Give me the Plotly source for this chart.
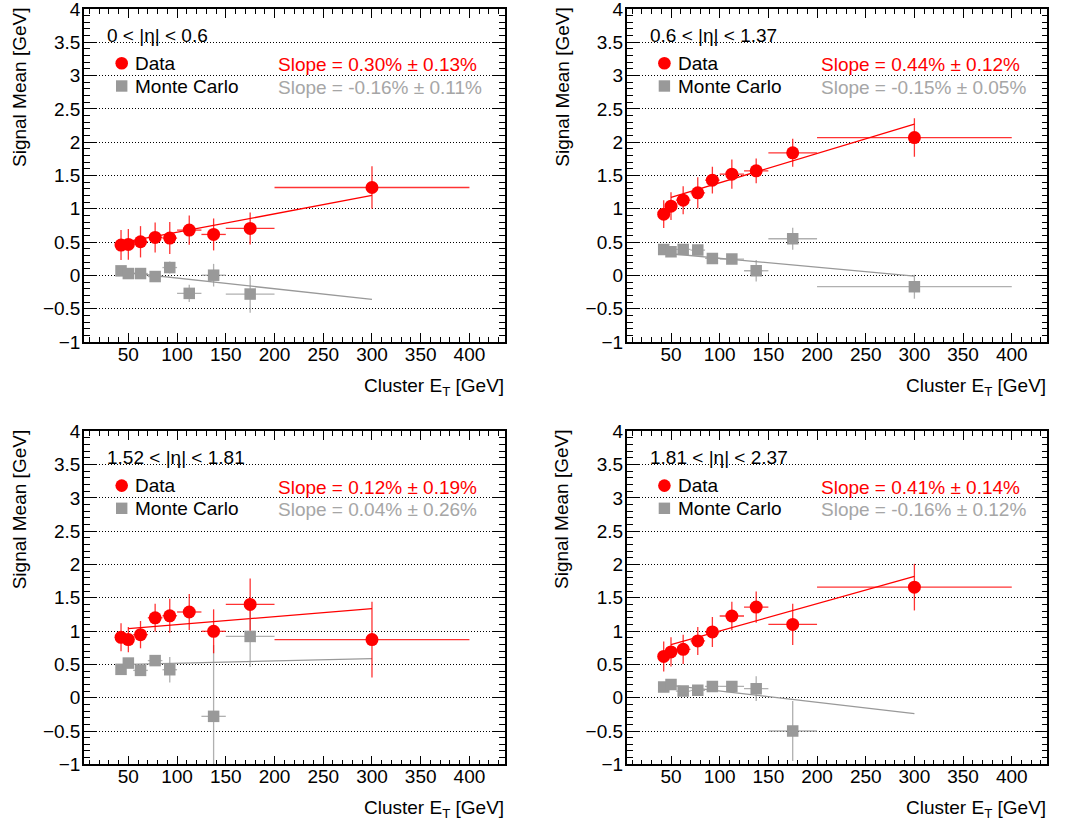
import plotly.graph_objects as go

# Bin centres and half-widths of the cluster E_T bins [GeV]
et_centres = [42.5, 50, 62.5, 77.5, 92.5, 112.5, 137.5, 175, 300]
et_halfwidths = [2.5, 5, 7.5, 7.5, 7.5, 12.5, 12.5, 25, 100]

eta_labels = ["0 < |η| < 0.6", "0.6 < |η| < 1.37", "1.52 < |η| < 1.81", "1.81 < |η| < 2.37"]

# Data: signal mean [GeV] and its uncertainty, one list per eta bin
data_mean = [
    [0.455, 0.465, 0.505, 0.57, 0.56, 0.68, 0.615, 0.705, 1.32],
    [0.92, 1.04, 1.13, 1.24, 1.43, 1.52, 1.57, 1.84, 2.07],
    [0.907, 0.872, 0.947, 1.20, 1.23, 1.287, 0.997, 1.40, 0.872],
    [0.62, 0.687, 0.727, 0.852, 0.987, 1.227, 1.36, 1.10, 1.66],
]
data_err = [
    [0.225, 0.23, 0.235, 0.225, 0.24, 0.22, 0.24, 0.24, 0.32],
    [0.21, 0.21, 0.21, 0.235, 0.20, 0.22, 0.185, 0.21, 0.29],
    [0.21, 0.19, 0.205, 0.21, 0.255, 0.27, 0.33, 0.39, 0.57],
    [0.225, 0.22, 0.22, 0.21, 0.225, 0.215, 0.235, 0.31, 0.35],
]

# Monte Carlo: signal mean [GeV] and its uncertainty (None = no entry)
mc_mean = [
    [0.068, 0.028, 0.028, -0.017, 0.118, -0.27, 0.003, -0.28, None],
    [0.39, 0.355, 0.39, 0.38, 0.255, 0.245, 0.07, 0.55, -0.17],
    [0.426, 0.52, 0.41, 0.557, 0.42, None, -0.28, 0.92, None],
    [0.161, 0.20, 0.10, 0.11, 0.17, 0.17, 0.136, -0.50, None],
]
mc_err = [
    [0.05, 0.05, 0.05, 0.05, 0.09, 0.13, 0.17, 0.28, None],
    [0.05, 0.05, 0.05, 0.05, 0.06, 0.06, 0.16, 0.165, 0.18],
    [0.05, 0.05, 0.05, 0.06, 0.19, None, 1.07, 0.46, None],
    [0.05, 0.05, 0.05, 0.05, 0.08, 0.08, 0.185, 0.45, None],
]

# Linear fits evaluated at the ends of the fit range
fit_range = [50, 300]
data_fit_ends = [[0.51, 1.20], [1.17, 2.27], [1.037, 1.337], [0.797, 1.82]]
mc_fit_ends = [[0.04, -0.36], [0.325, -0.01], [0.50, 0.587], [0.185, -0.24]]

data_slope_text = ["Slope = 0.30% ± 0.13%", "Slope = 0.44% ± 0.12%",
                   "Slope = 0.12% ± 0.19%", "Slope = 0.41% ± 0.14%"]
mc_slope_text = ["Slope = -0.16% ± 0.11%", "Slope = -0.15% ± 0.05%",
                 "Slope = 0.04% ± 0.26%", "Slope = -0.16% ± 0.12%"]

W, H = 1080, 825
FONT = "Liberation Sans, Arial, Helvetica, sans-serif"
RED = "#ff0000"
RED_BAR = "rgba(255,0,0,0.8)"
GREY = "#999999"
GREY_BAR = "rgba(150,150,150,0.75)"
GREY_TEXT = "#a6a6a6"

# Panel frames in pixels: (left, top, right, bottom)
frames = [
    (84, 9, 505, 342),
    (626.7, 9, 1047.3, 342),
    (84, 431.3, 505, 764.3),
    (626.7, 431.3, 1047.3, 764.3),
]


def px(x):
    return x / W


def py(y):
    return 1 - y / H


fig = go.Figure()
annotations = []
shapes = []

for i in range(4):
    xa = "x" if i == 0 else f"x{i + 1}"
    ya = "y" if i == 0 else f"y{i + 1}"
    l, t, r, b = frames[i]

    # fit lines
    fig.add_trace(go.Scatter(x=fit_range, y=mc_fit_ends[i], mode="lines",
                             line=dict(color=GREY, width=1.3),
                             xaxis=xa, yaxis=ya, showlegend=False, hoverinfo="skip"))
    fig.add_trace(go.Scatter(x=fit_range, y=data_fit_ends[i], mode="lines",
                             line=dict(color=RED, width=1.3),
                             xaxis=xa, yaxis=ya, showlegend=False, hoverinfo="skip"))

    # Monte Carlo points
    idx = [k for k, v in enumerate(mc_mean[i]) if v is not None]
    fig.add_trace(go.Scatter(
        x=[et_centres[k] for k in idx], y=[mc_mean[i][k] for k in idx],
        mode="markers",
        marker=dict(symbol="square", size=11.5, color=GREY),
        error_x=dict(type="data", array=[et_halfwidths[k] for k in idx],
                     width=0, thickness=1.3, color=GREY_BAR),
        error_y=dict(type="data", array=[mc_err[i][k] for k in idx],
                     width=0, thickness=1.3, color=GREY_BAR),
        xaxis=xa, yaxis=ya, showlegend=False, name="Monte Carlo"))

    # Data points
    fig.add_trace(go.Scatter(
        x=et_centres, y=data_mean[i], mode="markers",
        marker=dict(symbol="circle", size=13, color=RED),
        error_x=dict(type="data", array=et_halfwidths, width=0, thickness=1.3, color=RED_BAR),
        error_y=dict(type="data", array=data_err[i], width=0, thickness=1.3, color=RED_BAR),
        xaxis=xa, yaxis=ya, showlegend=False, name="Data"))

    axis_common = dict(
        showline=True, linecolor="black", linewidth=1.6, mirror="allticks",
        ticks="inside", tickcolor="black", tickwidth=1.2,
        tickfont=dict(family=FONT, size=19, color="black"),
        zeroline=False, automargin=False, ticklabeloverflow="allow",
    )
    fig.update_layout(**{
        ("xaxis" if i == 0 else f"xaxis{i + 1}"): dict(
            axis_common,
            domain=[px(l), px(r)], anchor=ya,
            range=[4.5, 436.5], ticklen=9,
            tickvals=[50, 100, 150, 200, 250, 300, 350, 400],
            showgrid=False, ticklabelstandoff=-6,
            minor=dict(dtick=10, tick0=0, ticklen=5, ticks="inside",
                       tickcolor="black", tickwidth=1.2, showgrid=False),
        ),
        ("yaxis" if i == 0 else f"yaxis{i + 1}"): dict(
            axis_common,
            domain=[py(b), py(t)], anchor=xa,
            range=[-1, 4], tick0=0, dtick=0.5, ticklen=12,
            showgrid=True, gridcolor="black", gridwidth=1, griddash="1px,2px",
            ticklabelstandoff=-2,
            minor=dict(dtick=0.1, tick0=0, ticklen=6, ticks="inside",
                       tickcolor="black", tickwidth=1.2, showgrid=False),
        ),
    })

    # axis titles, aligned to the ends of the axes
    annotations.append(dict(
        x=px(l - 64.5), y=py(t - 3), xref="paper", yref="paper",
        text="Signal Mean [GeV]", textangle=-90, showarrow=False,
        xanchor="center", yanchor="top",
        font=dict(family=FONT, size=19, color="black")))
    annotations.append(dict(
        x=px(r + 1), y=py(b + 45), xref="paper", yref="paper",
        text="Cluster E<sub>T</sub> [GeV]", showarrow=False,
        xanchor="right", yanchor="middle",
        font=dict(family=FONT, size=19, color="black")))

    # eta range label
    annotations.append(dict(
        x=px(l + 21), y=py(t + 26.5), xref="paper", yref="paper",
        text=eta_labels[i], showarrow=False, xanchor="left", yanchor="middle",
        font=dict(family=FONT, size=19, color="black")))

    # legend entries
    cx, cy_d, cy_m = l + 37.7, t + 54.3, t + 77
    shapes.append(dict(type="circle", xref="paper", yref="paper",
                       x0=px(cx - 6.3), x1=px(cx + 6.3), y0=py(cy_d + 6.3), y1=py(cy_d - 6.3),
                       fillcolor=RED, line=dict(width=0)))
    shapes.append(dict(type="rect", xref="paper", yref="paper",
                       x0=px(cx - 5.7), x1=px(cx + 5.7), y0=py(cy_m + 5.7), y1=py(cy_m - 5.7),
                       fillcolor=GREY, line=dict(width=0)))
    annotations.append(dict(
        x=px(l + 49), y=py(cy_d), xref="paper", yref="paper",
        text="Data", showarrow=False, xanchor="left", yanchor="middle",
        font=dict(family=FONT, size=19, color="black")))
    annotations.append(dict(
        x=px(l + 49), y=py(cy_m), xref="paper", yref="paper",
        text="Monte Carlo", showarrow=False, xanchor="left", yanchor="middle",
        font=dict(family=FONT, size=19, color="black")))

    # fitted slopes
    annotations.append(dict(
        x=px(l + 192), y=py(t + 56), xref="paper", yref="paper",
        text=data_slope_text[i], showarrow=False, xanchor="left", yanchor="middle",
        font=dict(family=FONT, size=19, color=RED)))
    annotations.append(dict(
        x=px(l + 192), y=py(t + 78.3), xref="paper", yref="paper",
        text=mc_slope_text[i], showarrow=False, xanchor="left", yanchor="middle",
        font=dict(family=FONT, size=19, color=GREY_TEXT)))

fig.update_layout(
    width=W, height=H,
    margin=dict(l=0, r=0, t=0, b=0, autoexpand=False),
    paper_bgcolor="white", plot_bgcolor="white",
    showlegend=False,
    annotations=annotations, shapes=shapes,
    font=dict(family=FONT, size=19, color="black"),
)

fig.write_html("out.html")
